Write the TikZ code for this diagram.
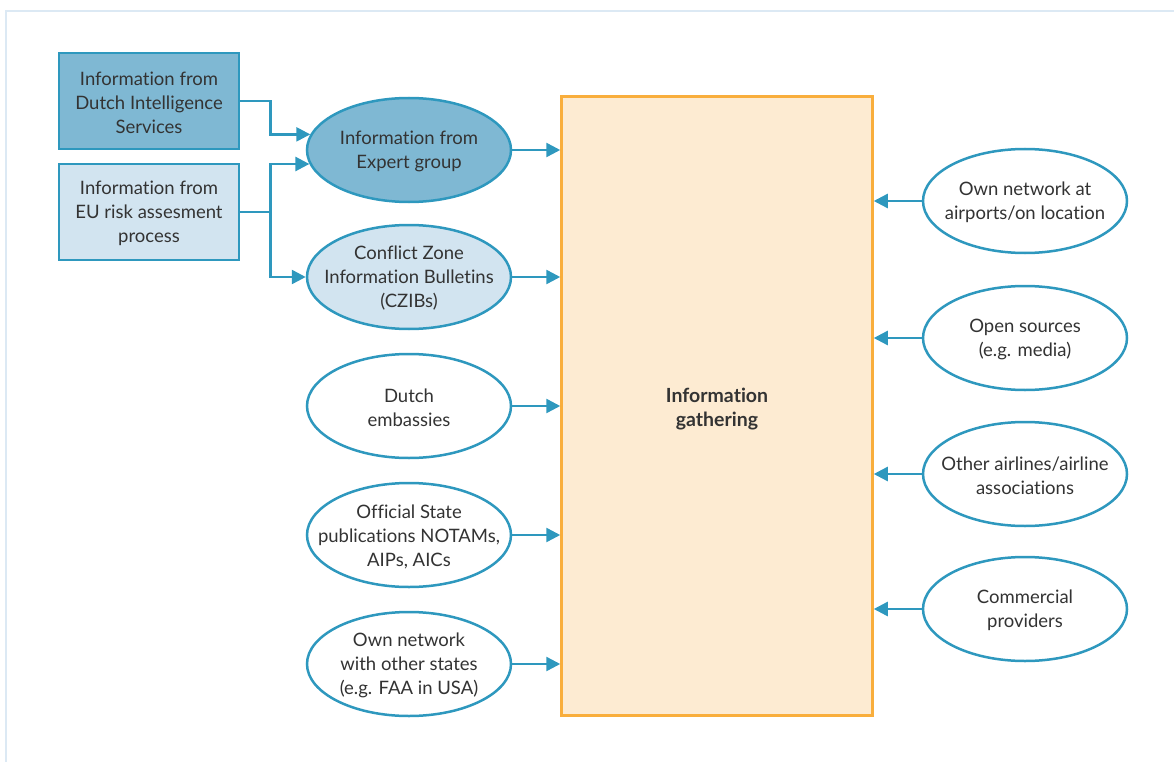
\documentclass[tikz,border=0pt]{standalone}
\usepackage{fontspec}
\setmainfont{Lato}[Ligatures={NoCommon,NoRequired,NoContextual}]
\usetikzlibrary{shapes.geometric,arrows.meta}
\definecolor{edgeblue}{HTML}{2E98BE}
\definecolor{darkfill}{HTML}{7FB8D3}
\definecolor{lightfill}{HTML}{D2E4F0}
\definecolor{coreedge}{HTML}{F9AE3C}
\definecolor{corefill}{HTML}{FDEBD2}
\definecolor{frameblue}{HTML}{DCE9F4}
\definecolor{txt}{HTML}{333333}
\begin{document}
\begin{tikzpicture}[x=1pt,y=-1pt,
  every node/.style={text=txt,font=\fontsize{18.5}{24}\selectfont,align=center},
  label/.style={yshift=-1.5pt},
  srcbox/.style={draw=edgeblue,line width=2.5pt,rectangle,minimum width=180pt,minimum height=96pt,inner sep=0pt},
  srcell/.style={draw=edgeblue,line width=2.5pt,ellipse,minimum width=204pt,minimum height=104pt,inner sep=0pt,fill=white},
  core/.style={draw=coreedge,fill=corefill,line width=2.5pt,rectangle,minimum width=311pt,minimum height=619pt,inner sep=0pt},
  feed/.style={draw=edgeblue,line width=2.5pt,-{Triangle[length=14pt,width=14pt]}}
]
\useasboundingbox (0,0) rectangle (1174,762);
% light frame around the figure
\draw[frameblue,line width=2pt] (6,762) -- (6,11) -- (1174,11);

% central block
\node[core] (gather) at (717,406) {};
\node[label,font=\fontsize{19.5}{24}\selectfont\bfseries] (gathertext) at (717,408) {Information\\gathering};

% sources at the top left
\node[srcbox,fill=darkfill] (dis) at (149,101) {};
\node[srcbox,fill=lightfill] (eu) at (149,212) {};
\node[label] (distext) at (dis) {Information from\\Dutch Intelligence\\Services};
\node[label] (eutext) at (eu) {Information from\\EU risk assesment\\process};

% left column: fixed-size ellipses, text set on top
\node[srcell,fill=darkfill] (expert) at (409,150) {};
\node[srcell,fill=lightfill] (czib) at (409,277) {};
\node[srcell] (emb) at (409,406) {};
\node[srcell] (notam) at (409,535) {};
\node[srcell] (states) at (409,664) {};
\node[label] (experttext) at (expert) {Information from\\Expert group};
\node[label] (czibtext) at (czib) {Conflict Zone\\Information Bulletins\\(CZIBs)};
\node[label] (embtext) at (emb) {Dutch\\embassies};
\node[label] (notamtext) at (notam) {Official State\\publications NOTAMs,\\AIPs, AICs};
\node[label] (statestext) at (states) {Own network\\with other states\\(e.g. FAA in USA)};

% right column
\node[srcell] (airports) at (1025,201) {};
\node[srcell] (open) at (1025,338) {};
\node[srcell] (airlines) at (1025,474) {};
\node[srcell] (comm) at (1025,609) {};
\node[label] (airportstext) at (airports) {Own network at\\airports/on location};
\node[label] (opentext) at (open) {Open sources\\(e.g. media)};
\node[label] (airlinestext) at (airlines) {Other airlines/airline\\associations};
\node[label] (commtext) at (comm) {Commercial\\providers};

% feeds into the expert group and bulletins
\draw[feed] (dis.east) -- ++(30,0) |- (expert.171);
\draw[edgeblue,line width=2.5pt] (eu.east) -- ++(30,0) coordinate (split);
\draw[feed] (split) |- (expert.188);
\draw[feed] (split) |- (czib.west);

% left column into the central block
\foreach \s in {expert,czib,emb,notam,states}
  \draw[feed] (\s.east) -- (gather.west |- \s.east);

% right column into the central block
\foreach \s in {airports,open,airlines,comm}
  \draw[feed] (\s.west) -- (gather.east |- \s.west);
\end{tikzpicture}
\end{document}
